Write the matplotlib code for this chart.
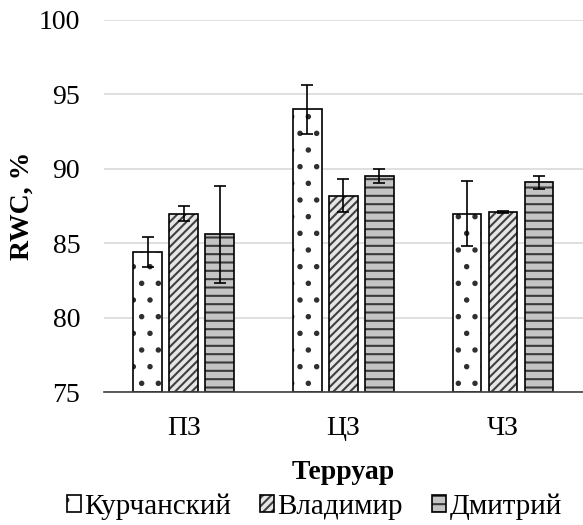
import matplotlib.pyplot as plt
import numpy as np

plt.rcParams['font.family'] = ['Liberation Serif', 'DejaVu Serif']
plt.rcParams['hatch.linewidth'] = 1.5

# Терруары и сорта
zones = ['ПЗ', 'ЦЗ', 'ЧЗ']
varieties = ['Курчанский', 'Владимир', 'Дмитрий']

# RWC, % и погрешности
kurchansky = [84.4, 94.0, 87.0]
kurchansky_err = [1.0, 1.65, 2.15]
vladimir = [87.0, 88.2, 87.1]
vladimir_err = [0.5, 1.1, 0.05]
dmitry = [85.6, 89.5, 89.1]
dmitry_err = [3.25, 0.47, 0.43]

values = [kurchansky, vladimir, dmitry]
errors = [kurchansky_err, vladimir_err, dmitry_err]
faces = ['white', '#e6e6e6', '#c4c4c4']
hatches = ['.', '////', '--']
hatch_colors = ['#303030', '#404040', '#3a3a3a']

fig = plt.figure(figsize=(5.83, 5.25), dpi=100)
ax = fig.add_axes([0.178, 0.253, 0.822, 0.709])

x = np.arange(len(zones))
w = 0.178
step = 0.225
for i in range(3):
    bars = ax.bar(x + (i - 1) * step, np.array(values[i]) - 75, width=w, bottom=75,
                  color=faces[i], edgecolor='black', linewidth=1.2,
                  hatch=hatches[i], label=varieties[i], zorder=2)
    for b in bars:
        b._hatch_color = plt.matplotlib.colors.to_rgba(hatch_colors[i])
    ax.errorbar(x + (i - 1) * step, values[i], yerr=errors[i], fmt='none',
                ecolor='black', elinewidth=1.2, capsize=4.5, capthick=1.2, zorder=3)

ax.set_ylim(75, 100)
ax.set_xlim(-0.5, 2.5)
ax.set_yticks([75, 80, 85, 90, 95, 100])
ax.set_xticks(x)
ax.set_xticklabels(zones)
ax.tick_params(axis='both', length=0, labelsize=20)
ax.tick_params(axis='y', pad=17)
ax.tick_params(axis='x', pad=17)
ax.yaxis.grid(True, color='#d9d9d9', linewidth=1.2, zorder=0)
ax.set_axisbelow(True)
for s in ['top', 'right', 'left']:
    ax.spines[s].set_visible(False)
ax.spines['bottom'].set_color('#404040')
ax.spines['bottom'].set_linewidth(1.2)

ax.set_xlabel('Терруар', fontsize=20, fontweight='bold', labelpad=14)
ax.set_ylabel('RWC, %', fontsize=20, fontweight='bold', labelpad=3)

fig.legend(loc='center', bbox_to_anchor=(0.539, 0.035), ncol=3, frameon=False,
           fontsize=21, handlelength=0.48, handleheight=0.48, handletextpad=0.12,
           columnspacing=1.0, borderpad=0)

fig.savefig('out.png', dpi=100)
